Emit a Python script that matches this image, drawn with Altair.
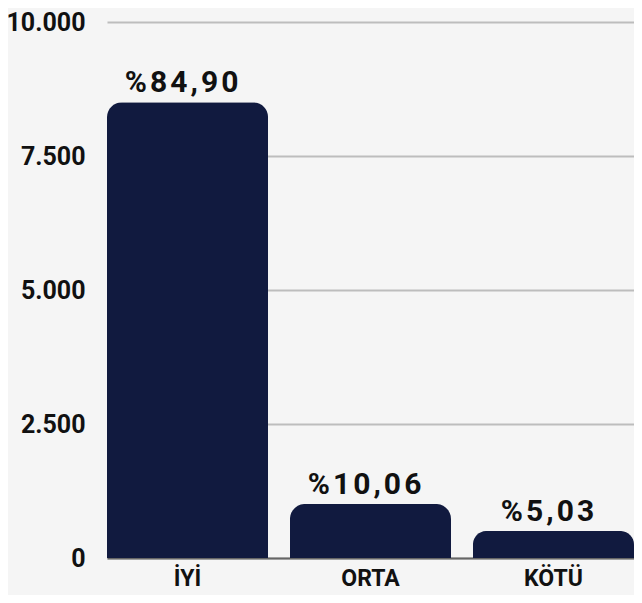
import altair as alt
import pandas as pd

categories = ["İYİ", "ORTA", "KÖTÜ"]
counts = [8504, 1008, 504]
percent_labels = ["%84,90", "%10,06", "%5,03"]
y_ticks = [0, 2500, 5000, 7500, 10000]

hair = "\u200a"
df = pd.DataFrame({
    "kategori": categories,
    "adet": counts,
    "etiket": [hair.join(list(s)) for s in percent_labels],
})

FONT = "Roboto"
BAR = "#111a3f"

x = alt.X(
    "kategori:N",
    sort=categories,
    title=None,
    scale=alt.Scale(paddingInner=0.12, paddingOuter=0),
    axis=alt.Axis(
        labelAngle=0,
        labelFont=FONT,
        labelFontSize=23,
        labelFontWeight="bold",
        labelColor="#111111",
        labelBaseline="alphabetic",
        labelPadding=27,
        ticks=False,
        domain=True,
        domainColor="#666666",
        domainWidth=2,
        grid=False,
        zindex=0,
    ),
)

y = alt.Y(
    "adet:Q",
    title=None,
    scale=alt.Scale(domain=[0, 10000], nice=False),
    axis=alt.Axis(
        values=y_ticks,
        labelExpr="replace(format(datum.value, ','), ',', '.')",
        labelFont=FONT,
        labelFontSize=25,
        labelFontWeight="bold",
        labelColor="#111111",
        labelPadding=22,
        ticks=False,
        domain=False,
        grid=True,
        gridColor="#bdbdbd",
        gridWidth=2,
        zindex=0,
    ),
)

bars = alt.Chart(df).mark_bar(
    color=BAR,
    cornerRadiusTopLeft=15,
    cornerRadiusTopRight=15,
).encode(x=x, y=y)

labels = alt.Chart(df).mark_text(
    font=FONT,
    fontSize=30,
    fontWeight="bold",
    color="#111111",
    baseline="alphabetic",
    dy=-10,
    dx=-6,
).encode(x=alt.X("kategori:N", sort=categories), y="adet:Q", text="etiket:N")

chart = (
    alt.layer(bars, labels)
    .properties(
        width=527,
        height=536,
        background="#f5f5f5",
        autosize=alt.AutoSizeParams(type="none"),
        padding={"left": 99, "top": 14, "right": 0, "bottom": 37},
    )
    .configure_view(stroke=None)
)

chart.save("out.html", embed_options={"renderer": "svg", "actions": False})
